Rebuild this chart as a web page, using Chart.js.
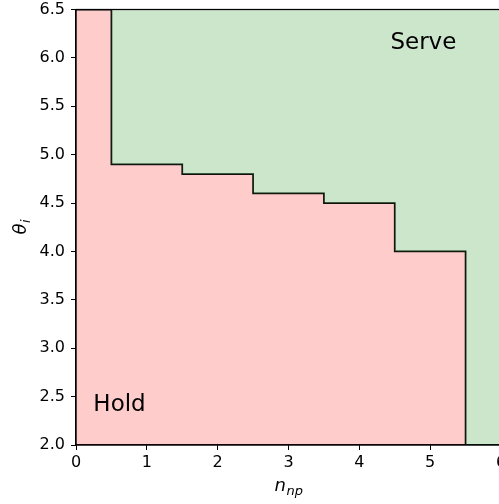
<!DOCTYPE html>
<html>
<head>
<meta charset="utf-8">
<script src="https://cdn.jsdelivr.net/npm/chart.js@4.4.1/dist/chart.umd.min.js"></script>
<style>
  html, body { margin: 0; padding: 0; overflow: hidden; background: #fff; }
  #wrap { width: 530px; height: 504px; }
</style>
</head>
<body>
<div id="wrap"><canvas id="c" width="530" height="504"></canvas></div>
<script>
// Serve/hold decision boundary: threshold on theta_i for each n_np
const nNp = [0, 1, 2, 3, 4, 5, 6];
const thetaThreshold = [6.5, 4.9, 4.8, 4.6, 4.5, 4.0, 2.0];
const xTicks = [0, 1, 2, 3, 4, 5, 6];
const yTicks = [2.0, 2.5, 3.0, 3.5, 4.0, 4.5, 5.0, 5.5, 6.0, 6.5];
const regionLabels = [
  { text: 'Serve', x: 5.37, y: 6.09, align: 'right' },
  { text: 'Hold', x: 0.245, y: 2.355, align: 'left' }
];

const FONT = '"DejaVu Sans", sans-serif';
const points = nNp.map((n, i) => ({ x: n, y: thetaThreshold[i] }));

// Frame, axis titles with subscripts, region labels
const decor = {
  id: 'decor',
  afterDatasetsDraw(chart) {
    const { ctx, chartArea: a, scales } = chart;
    ctx.save();
    ctx.strokeStyle = '#000';
    ctx.lineWidth = 1.25;
    ctx.strokeRect(a.left, a.top, a.right - a.left, a.bottom - a.top);

    ctx.fillStyle = '#000';
    ctx.textBaseline = 'alphabetic';
    ctx.font = '23px ' + FONT;
    regionLabels.forEach(l => {
      ctx.textAlign = l.align;
      ctx.fillText(l.text, scales.x.getPixelForValue(l.x), scales.y.getPixelForValue(l.y));
    });

    function subText(base, sub, cx, cy) {
      ctx.textAlign = 'left';
      ctx.font = 'italic 18px ' + FONT;
      const w1 = ctx.measureText(base).width;
      ctx.font = 'italic 13px ' + FONT;
      const w2 = ctx.measureText(sub).width;
      const x0 = cx - (w1 + w2) / 2;
      ctx.font = 'italic 18px ' + FONT;
      ctx.fillText(base, x0, cy);
      ctx.font = 'italic 13px ' + FONT;
      ctx.fillText(sub, x0 + w1 + 0.5, cy + 4);
    }
    const midX = (a.left + a.right) / 2;
    subText('n', 'np', midX, 491);

    ctx.save();
    ctx.translate(26, (a.top + a.bottom) / 2);
    ctx.rotate(-Math.PI / 2);
    subText('θ', 'i', 0, 0);
    ctx.restore();
    ctx.restore();
  }
};

new Chart(document.getElementById('c'), {
  type: 'line',
  data: {
    datasets: [
      {
        data: points,
        stepped: 'middle',
        fill: 'end',
        backgroundColor: 'rgba(0,128,0,0.2)',
        borderWidth: 0,
        pointRadius: 0
      },
      {
        data: points,
        stepped: 'middle',
        fill: 'start',
        backgroundColor: 'rgba(255,0,0,0.2)',
        borderColor: '#111',
        borderWidth: 1.75,
        pointRadius: 0
      }
    ]
  },
  options: {
    responsive: false,
    animation: false,
    events: [],
    layout: { padding: { left: 0, right: 29, top: 9.5, bottom: 0 } },
    plugins: { legend: { display: false }, tooltip: { enabled: false } },
    scales: {
      x: {
        type: 'linear',
        min: 0, max: 6,
        afterBuildTicks: s => { s.ticks = xTicks.map(v => ({ value: v })); },
        afterFit: s => { s.height = 59; s.paddingLeft = 0; s.paddingRight = 0; },
        grid: { display: true, drawOnChartArea: false, drawTicks: true, tickLength: 5, color: '#000', lineWidth: 1 },
        border: { display: true, color: '#000', width: 1.25 },
        ticks: { color: '#000', font: { family: FONT, size: 16 }, padding: 3, maxRotation: 0, callback: v => String(v) }
      },
      y: {
        type: 'linear',
        min: 2.0, max: 6.5,
        afterBuildTicks: s => { s.ticks = yTicks.map(v => ({ value: v })); },
        afterFit: s => { s.width = 76; s.paddingTop = 0; s.paddingBottom = 0; },
        grid: { display: true, drawOnChartArea: false, drawTicks: true, tickLength: 5, color: '#000', lineWidth: 1 },
        border: { display: true, color: '#000', width: 1.25 },
        ticks: { color: '#000', font: { family: FONT, size: 16 }, padding: 6, callback: v => Number(v).toFixed(1) }
      }
    }
  },
  plugins: [decor]
});
</script>
</body>
</html>
